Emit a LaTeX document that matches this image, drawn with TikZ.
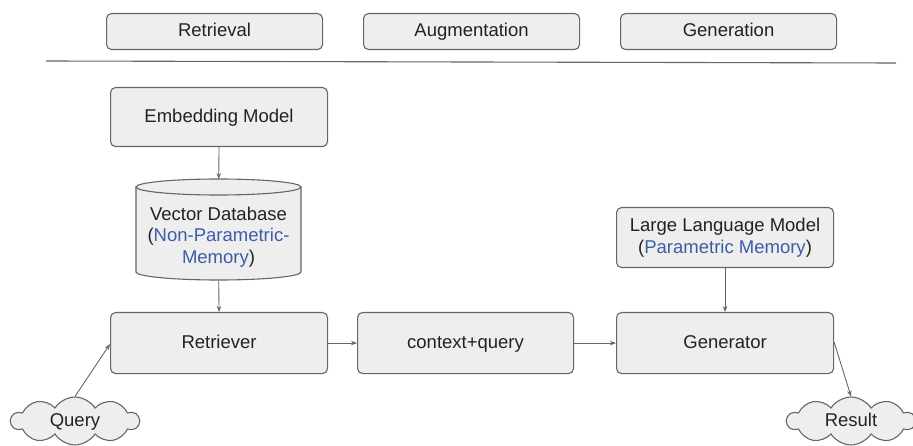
\documentclass[tikz,border=0pt]{standalone}
\usepackage{fontspec}
\setmainfont{Liberation Sans}
\usetikzlibrary{arrows.meta,shapes.symbols}
\definecolor{boxfill}{HTML}{EEEEEE}
\definecolor{boxline}{HTML}{666666}
\definecolor{ink}{HTML}{222222}
\definecolor{memblue}{HTML}{3C5DA8}
\definecolor{wire}{HTML}{666666}
\tikzset{
  box/.style={draw=boxline, fill=boxfill, rounded corners=5pt, line width=1.1pt,
    text=ink, font=\fontsize{18.5}{21.5}\selectfont, align=center,
    inner sep=0pt, anchor=north west},
  oneline/.style={text height=13.5pt, text depth=3.5pt},
  puff/.style={cloud, cloud puffs=10, cloud puff arc=115, cloud ignores aspect,
    draw=boxline, fill=boxfill, line width=1.1pt, text=ink,
    font=\fontsize{18.5}{21.5}\selectfont, text height=13.5pt, text depth=3.5pt,
    minimum width=128pt, minimum height=48pt, inner sep=0pt},
  flow/.style={draw=wire, line width=0.9pt, -{Stealth[length=6pt,width=4.5pt]}},
  mem/.style={text=memblue}
}
\begin{document}
\begin{tikzpicture}[x=1pt, y=-1pt]
\useasboundingbox (0,0) rectangle (913,446);

% phase headers
\node[box, oneline, minimum width=216pt, minimum height=36pt] (hret) at (106,13) {Retrieval};
\node[box, oneline, minimum width=216pt, minimum height=36pt] (haug) at (363,13) {Augmentation};
\node[box, oneline, minimum width=216pt, minimum height=36pt] (hgen) at (620,13) {Generation};
\coordinate (sepL) at (46,61);
\coordinate (sepR) at (896,63);
\draw[boxline, line width=1.1pt] (sepL) -- (sepR);

% retrieval column
\node[box, oneline, minimum width=217pt, minimum height=59pt] (emb) at (110,87) {Embedding Model};

% vector database drawn as a cylinder
\node[minimum width=165pt, minimum height=101pt, inner sep=0pt, anchor=north west] (vdb) at (136,179) {};
\fill[boxfill] (136,187) -- (136,272) arc[start angle=180, end angle=360, x radius=82.5pt, y radius=8pt]
  -- (301,187) arc[start angle=0, end angle=180, x radius=82.5pt, y radius=8pt] -- cycle;
\draw[boxline, line width=1.1pt] (136,187) -- (136,272) arc[start angle=180, end angle=360, x radius=82.5pt, y radius=8pt]
  -- (301,187);
\draw[boxline, line width=1.1pt] (218.5,187) ellipse[x radius=82.5pt, y radius=8pt];
\node[text=ink, font=\fontsize{18.5}{21.5}\selectfont, align=center] (vdbtext) at (218.5,237)
  {Vector Database\\(\textcolor{memblue}{Non-Parametric-}\\\textcolor{memblue}{Memory})};

\node[box, oneline, minimum width=217pt, minimum height=61pt] (ret) at (110,312) {Retriever};
\node[box, oneline, minimum width=216pt, minimum height=61pt] (ctx) at (357,312) {context+query};
\node[box, oneline, minimum width=217pt, minimum height=61pt] (gen) at (616,312) {Generator};
\node[box, minimum width=217pt, minimum height=60pt] (llm) at (616,207)
  {Large Language Model\\(\textcolor{memblue}{Parametric Memory})};

\node[puff] (query) at (75,421) {Query};
\node[puff] (result) at (851,421) {Result};

% connectors
\draw[flow] (emb.south) -- (vdb.north);
\draw[flow] (vdb.south) -- (ret.north);
\draw[flow] (ret.east) -- (ctx.west);
\draw[flow] (ctx.east) -- (gen.west);
\draw[flow] (llm.south) -- (gen.north);
\draw[flow] (query.north) -- ([yshift=-1pt]ret.west);
\draw[flow] ([yshift=1pt]gen.east) -- (result.north);
\end{tikzpicture}
\end{document}
